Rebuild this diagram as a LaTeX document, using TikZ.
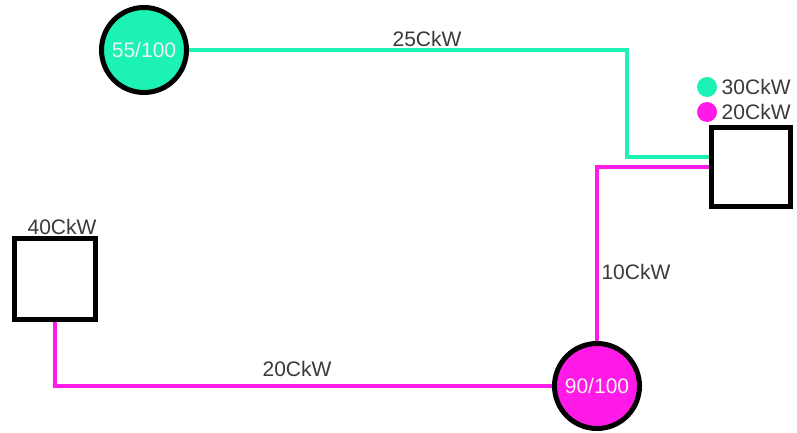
\documentclass[tikz,border=0pt]{standalone}
\usepackage{fontspec}
\setmainfont{Liberation Sans}
\usetikzlibrary{
    positioning % for the labels next to the boxes
}

\definecolor{mint}{HTML}{1CF2B4}
\definecolor{pink}{HTML}{FF1AE8}
\definecolor{ink}{HTML}{3A3A3A}

\begin{document}
\begin{tikzpicture}[
        x=1pt,y=-1pt,
        every node/.style = {font=\fontsize{21}{21}\selectfont,text=ink},
        station/.style    = {circle,draw=black,line width=5pt,minimum size=85pt,inner sep=0pt,text=white!90!gray},
        load/.style       = {rectangle,draw=black,line width=5pt,minimum size=79pt,fill=white},
        dot/.style        = {circle,minimum size=20pt,inner sep=0pt},
        mint line/.style  = {draw=mint,line width=4pt},
        pink line/.style  = {draw=pink,line width=4pt}
    ]
    \useasboundingbox (0,0) rectangle (797,433);

    % the two stations and the two loads
    \node [station,fill=mint] (s1) at (144,50)  {55/100};
    \node [station,fill=pink] (s2) at (597,386) {90/100};
    \node [load] (b1) at (751,167) {};
    \node [load,minimum size=81pt] (b2) at (55,279) [label={[inner sep=1pt,xshift=7pt]above:40CkW}] {};

    % legend of the right load
    \node [dot,fill=mint] (d1) at (707,87)  {};
    \node [dot,fill=pink] (d2) at (707,112) {};
    \node [right=1pt of d1] {30CkW};
    \node [right=1pt of d2] {20CkW};

    % lines
    \coordinate (g1) at (627,157);
    \draw [mint line] (s1) -| (g1) -- (g1 -| b1.west);
    \draw [pink line] (b1.west) -| (s2.north);
    \draw [pink line] (s2.west) -| (b2.south);

    \node (l1) at (427,39)  {25CkW};
    \node (l2) at (297,369) {20CkW};
    \node [anchor=west] (l3) at (598,272) {10CkW};

\end{tikzpicture}
\end{document}
